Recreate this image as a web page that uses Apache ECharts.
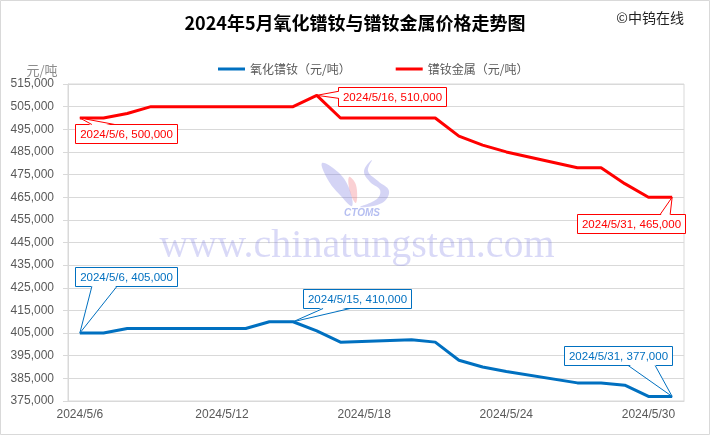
<!DOCTYPE html>
<html><head><meta charset="utf-8">
<script src="https://cdn.jsdelivr.net/npm/echarts@6/dist/echarts.min.js"></script>
<style>html,body{margin:0;padding:0;background:#fff}#c{width:710px;height:435px}</style>
</head><body><div id="c"></div>
<script>
// ---- data ----
const dates = ['2024/5/6','2024/5/7','2024/5/8','2024/5/9','2024/5/10','2024/5/11','2024/5/12',
  '2024/5/13','2024/5/14','2024/5/15','2024/5/16','2024/5/17','2024/5/18','2024/5/19',
  '2024/5/20','2024/5/21','2024/5/22','2024/5/23','2024/5/24','2024/5/25','2024/5/26',
  '2024/5/27','2024/5/28','2024/5/29','2024/5/30','2024/5/31'];
const oxidePrice = [405000,405000,407000,407000,407000,null,null,
  407000,410000,410000,406000,401000,null,null,
  402000,401000,393000,390000,388000,null,null,
  383000,383000,382000,377000,377000];
const metalPrice = [500000,500000,502000,505000,505000,null,null,
  505000,505000,505000,510000,500000,null,null,
  500000,500000,492000,488000,485000,null,null,
  478000,478000,471000,465000,465000];
const seriesNames = ['氧化镨钕（元/吨）','镨钕金属（元/吨）'];
const titleText = '2024年5月氧化镨钕与镨钕金属价格走势图';
const sourceText = '©中钨在线';
const unitText = '元/吨';
const watermarkText = 'www.chinatungsten.com';
const logoText = 'CTOMS';
const yMin = 375000, yMax = 515000, yStep = 10000;
// annotated points: [seriesIndex, date]
const calloutPoints = [[1,'2024/5/6'],[1,'2024/5/16'],[1,'2024/5/31'],[0,'2024/5/6'],[0,'2024/5/15'],[0,'2024/5/31']];

// ---- styles ----
const colors = ['#0070C0','#FF0000'];
const FONT = "'Liberation Sans','Noto Sans CJK SC',sans-serif";
const CJK = "'Noto Sans CJK SC','Liberation Sans',sans-serif";
// callout placement (pixel offsets relative to the data point)
const calloutStyle = [
  {h:'left', dx:-5, v:'top', dy:6, side:'top', b:[12,35]},
  {h:'left', dx:21, v:'top', dy:-8, side:'left', b:[-4,3]},
  {h:'right', dx:13, v:'top', dy:17, side:'top', b:[-12,-2]},
  {h:'left', dx:-5, v:'bottom', dy:-47, side:'bottom', b:[12,37]},
  {h:'left', dx:10, v:'bottom', dy:-14, side:'bottom', b:[30,57]},
  {h:'right', dx:0, v:'bottom', dy:-31, side:'bottom', b:[-44,-17]}
];

const chart = echarts.init(document.getElementById('c'), null, {renderer:'canvas'});
const fmt = v => Number(v).toLocaleString('en-US');

chart.setOption({
  animation:false,
  backgroundColor:'#fff',
  title:{text:titleText, left:'center', top:9,
    textStyle:{fontFamily:CJK, fontSize:18, fontWeight:'bold', color:'#000'}},
  legend:{left:213, top:58, icon:'rect', itemWidth:27, itemHeight:3, itemGap:45,
    textStyle:{fontFamily:CJK, fontSize:12, color:'#595959'},
    data:seriesNames},
  grid:{left:68, right:26, top:84, bottom:34, show:true, borderColor:'#d9d9d9', borderWidth:1},
  xAxis:{type:'category', data:dates, boundaryGap:true,
    axisLine:{lineStyle:{color:'#d9d9d9'}},
    axisTick:{show:false},
    axisLabel:{interval:(i)=> i%6===0, color:'#595959', fontFamily:FONT, fontSize:12, margin:8}
  },
  yAxis:{type:'value', min:yMin, max:yMax, interval:yStep,
    axisLine:{show:true, lineStyle:{color:'#d9d9d9'}},
    axisTick:{show:true, length:5, lineStyle:{color:'#d9d9d9'}},
    splitLine:{lineStyle:{color:'#d9d9d9'}},
    axisLabel:{color:'#595959', fontFamily:FONT, fontSize:12, margin:14, formatter:fmt}
  },
  series:[
    {name:seriesNames[0], type:'line', data:oxidePrice, connectNulls:true, showSymbol:false,
      lineStyle:{color:colors[0], width:3}, itemStyle:{color:colors[0]}, z:3},
    {name:seriesNames[1], type:'line', data:metalPrice, connectNulls:true, showSymbol:false,
      lineStyle:{color:colors[1], width:3}, itemStyle:{color:colors[1]}, z:3}
  ]
});

// measure text
const mctx = document.createElement('canvas').getContext('2d');
const LFONT = "11.5px " + FONT;
mctx.font = LFONT;

const seriesData = [oxidePrice, metalPrice];
const graphics = [];
const WM = 'rgba(120,120,225,0.28)';
// outer border
graphics.push({type:'rect', shape:{x:0.5,y:0.5,width:709,height:434}, style:{fill:null, stroke:'#d9d9d9', lineWidth:1}, z:0, silent:true});
// watermark
graphics.push({type:'text', x:357, y:246, style:{text:watermarkText, font:"40px 'Liberation Serif','DejaVu Serif',serif",
  fill:WM, align:'center', verticalAlign:'middle', textAlign:'center', textVerticalAlign:'middle'}, z:1, silent:true});
graphics.push({type:'polygon', shape:{smooth:0.4, points:[[322,163],[338,172],[349,188],[352,206],[340,195],[328,180]]},
  style:{fill:'rgba(120,120,225,0.32)'}, z:1, silent:true});
graphics.push({type:'polygon', shape:{smooth:0.4, points:[[372,160],[368,171],[378,181],[389,191],[382,203],[360,207],[377,199],[380,190],[370,182],[364,171]]},
  style:{fill:'rgba(120,120,225,0.32)'}, z:1, silent:true});
graphics.push({type:'polygon', shape:{smooth:0.4, points:[[349,177],[356,185],[356,203],[350,192]]},
  style:{fill:'rgba(240,120,130,0.35)'}, z:1, silent:true});
graphics.push({type:'text', x:362, y:213, style:{text:logoText, font:"italic bold 10px 'Liberation Sans',sans-serif",
  fill:'rgba(90,110,225,0.45)', align:'center', verticalAlign:'middle', textAlign:'center', textVerticalAlign:'middle'}, z:1, silent:true});
// source & unit
graphics.push({type:'text', x:684, y:18, style:{text:sourceText, font:"14px "+CJK, fill:'#222',
  align:'right', verticalAlign:'middle', textAlign:'right', textVerticalAlign:'middle'}, z:5});
graphics.push({type:'text', x:42, y:70, style:{text:unitText, font:"13px "+CJK, fill:'#8c8c8c',
  align:'center', verticalAlign:'middle', textAlign:'center', textVerticalAlign:'middle'}, z:5});

calloutPoints.forEach((cp, k) => {
  const [si, d] = cp;
  const idx = dates.indexOf(d);
  const val = seriesData[si][idx];
  const p = chart.convertToPixel({seriesIndex:si}, [idx, val]);
  const st = calloutStyle[k];
  const col = colors[si];
  const txt = d + ', ' + fmt(val);
  const w = Math.round(mctx.measureText(txt).width) + 9;
  const h = 19;
  let x = st.h === 'left' ? p[0] + st.dx : p[0] + st.dx - w;
  let y = st.v === 'top' ? p[1] + st.dy : p[1] + st.dy - h;
  x = Math.round(x) + 0.5; y = Math.round(y) + 0.5;
  graphics.push({type:'rect', shape:{x:x, y:y, width:w, height:h}, style:{fill:'#fff', stroke:col, lineWidth:1}, z:10});
  let b1, b2, f1, f2;
  if (st.side === 'top') { b1=[p[0]+st.b[0], y]; b2=[p[0]+st.b[1], y]; f1=[b1[0],y+1.5]; f2=[b2[0],y+1.5]; }
  else if (st.side === 'bottom') { b1=[p[0]+st.b[0], y+h]; b2=[p[0]+st.b[1], y+h]; f1=[b1[0],y+h-1.5]; f2=[b2[0],y+h-1.5]; }
  else { b1=[x, p[1]+st.b[0]]; b2=[x, p[1]+st.b[1]]; f1=[x+1.5,b1[1]]; f2=[x+1.5,b2[1]]; }
  graphics.push({type:'polygon', shape:{points:[f1, p, f2]}, style:{fill:'#fff', stroke:null}, z:11});
  graphics.push({type:'polyline', shape:{points:[b1, p, b2]}, style:{fill:null, stroke:col, lineWidth:1}, z:12});
  graphics.push({type:'text', x:x + w/2, y:y + h/2 + 0.5, style:{text:txt, font:LFONT, fill:col,
    align:'center', verticalAlign:'middle', textAlign:'center', textVerticalAlign:'middle'}, z:13});
});
chart.setOption({graphic:{elements:graphics}});
</script></body></html>
